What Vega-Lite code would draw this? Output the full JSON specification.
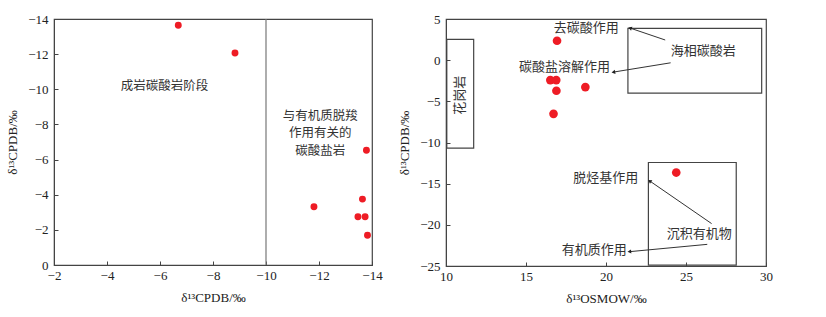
{
  "$schema": "https://vega.github.io/schema/vega-lite/v6.json",
  "background": "white",
  "padding": {"left": 6, "top": 12, "right": 5, "bottom": 5},
  "spacing": 15,
  "config": {
    "font": "Liberation Serif",
    "view": {"stroke": "#444", "strokeWidth": 1.2},
    "axis": {
      "labelFont": "Liberation Serif", "labelFontSize": 13, "labelColor": "#222",
      "titleFont": "Liberation Serif", "titleFontSize": 13, "titleFontWeight": "normal", "titleColor": "#222",
      "domainColor": "#444", "tickColor": "#444", "tickSize": -4, "grid": false,
      "labelOverlap": false, "labelFlush": false
    },
    "axisX": {"labelPadding": 8},
    "axisY": {"labelPadding": 10},
    "text": {"font": "Noto Sans CJK SC", "fontSize": 13, "color": "#333"}
  },
  "datasets": {
    "left": [
      {"x": -6.69, "y": -13.64}, {"x": -8.83, "y": -12.07}, {"x": -13.79, "y": -6.53},
      {"x": -13.64, "y": -3.75}, {"x": -11.81, "y": -3.32}, {"x": -13.47, "y": -2.75},
      {"x": -13.74, "y": -2.75}, {"x": -13.83, "y": -1.69}
    ],
    "leftText": [
      {"x": -6.17, "y": -10.2, "t": "成岩碳酸岩阶段"},
      {"x": -12.05, "y": -8.5, "t": "与有机质脱羧\n作用有关的\n碳酸盐岩"}
    ],
    "right": [
      {"x": 16.94, "y": 2.36}, {"x": 16.52, "y": -2.42}, {"x": 16.89, "y": -2.42},
      {"x": 16.9, "y": -3.72}, {"x": 18.71, "y": -3.27}, {"x": 16.72, "y": -6.52},
      {"x": 24.39, "y": -13.65}
    ],
    "boxes": [
      {"x1": 10.05, "x2": 11.73, "y1": -10.69, "y2": 2.53},
      {"x1": 21.37, "x2": 29.73, "y1": -4.0, "y2": 3.87},
      {"x1": 22.65, "x2": 28.14, "y1": -24.9, "y2": -12.43}
    ],
    "rightText": [
      {"x": 18.77, "y": 3.87, "t": "去碳酸作用"},
      {"x": 17.4, "y": -0.8, "t": "碳酸盐溶解作用"},
      {"x": 26.08, "y": 1.15, "t": "海相碳酸岩"},
      {"x": 19.98, "y": -14.26, "t": "脱烃基作用"},
      {"x": 25.83, "y": -21.07, "t": "沉积有机物"},
      {"x": 19.27, "y": -23.1, "t": "有机质作用"}
    ],
    "arrows": [
      {"x1": 23.7, "y1": 2.45, "x2": 21.5, "y2": 3.9},
      {"x1": 24.04, "y1": -0.32, "x2": 20.46, "y2": -1.45},
      {"x1": 26.6, "y1": -19.85, "x2": 22.73, "y2": -14.67},
      {"x1": 26.33, "y1": -22.37, "x2": 21.46, "y2": -23.26}
    ]
  },
  "hconcat": [
    {
      "width": 318, "height": 246,
      "layer": [
        {
          "data": {"values": [{"x": -10}]},
          "mark": {"type": "rule", "color": "#777", "strokeWidth": 1.2},
          "encoding": {"x": {"field": "x", "type": "quantitative"}}
        },
        {
          "data": {"name": "left"},
          "mark": {"type": "circle", "color": "#ee1c25", "opacity": 1, "size": 48},
          "encoding": {
            "x": {"field": "x", "type": "quantitative",
              "scale": {"domain": [-14, -2], "reverse": true, "nice": false, "zero": false},
              "axis": {"values": [-2, -4, -6, -8, -10, -12, -14], "title": "δ¹³CPDB/‰", "titlePadding": 9, "labelOverlap": false}},
            "y": {"field": "y", "type": "quantitative",
              "scale": {"domain": [-14, 0], "reverse": true, "nice": false, "zero": false},
              "axis": {"values": [0, -2, -4, -6, -8, -10, -12, -14], "title": "δ¹³CPDB/‰", "titlePadding": 8, "labelOverlap": false}}
          }
        },
        {
          "data": {"name": "leftText"},
          "mark": {"type": "text", "lineBreak": "\n", "lineHeight": 17.5, "fontSize": 12.5},
          "encoding": {
            "x": {"field": "x", "type": "quantitative",
              "scale": {"domain": [-14, -2], "reverse": true, "nice": false, "zero": false},
              "axis": {"values": [-2, -4, -6, -8, -10, -12, -14], "title": "δ¹³CPDB/‰", "titlePadding": 9, "labelOverlap": false}},
            "y": {"field": "y", "type": "quantitative",
              "scale": {"domain": [-14, 0], "reverse": true, "nice": false, "zero": false},
              "axis": {"values": [0, -2, -4, -6, -8, -10, -12, -14], "title": "δ¹³CPDB/‰", "titlePadding": 8, "labelOverlap": false}},
            "text": {"field": "t"}
          }
        }
      ]
    },
    {
      "width": 320, "height": 247,
      "layer": [
        {
          "data": {"name": "boxes"},
          "mark": {"type": "rect", "fill": null, "fillOpacity": 0, "stroke": "#444", "strokeWidth": 1.2},
          "encoding": {
            "x": {"field": "x1", "type": "quantitative",
              "scale": {"domain": [10, 30], "nice": false, "zero": false},
              "axis": {"values": [10, 15, 20, 25, 30], "title": "δ¹³OSMOW/‰", "titlePadding": 9}},
            "x2": {"field": "x2"},
            "y": {"field": "y1", "type": "quantitative",
              "scale": {"domain": [-25, 5], "nice": false, "zero": false},
              "axis": {"values": [-25, -20, -15, -10, -5, 0, 5], "title": "δ¹³CPDB/‰", "titlePadding": 8}},
            "y2": {"field": "y2"}
          }
        },
        {
          "data": {"name": "arrows"},
          "mark": {"type": "rule", "color": "#333", "strokeWidth": 1},
          "encoding": {
            "x": {"field": "x1", "type": "quantitative"},
            "y": {"field": "y1", "type": "quantitative"},
            "x2": {"field": "x2"},
            "y2": {"field": "y2"}
          }
        },
        {
          "data": {"name": "arrows"},
          "transform": [
            {"calculate": "atan2((datum.x2 - datum.x1) * 16, (datum.y2 - datum.y1) * 8.22) * 180 / PI", "as": "ang"}
          ],
          "mark": {"type": "point", "shape": "triangle-up", "filled": true, "color": "#222", "size": 18, "opacity": 1, "strokeWidth": 0},
          "encoding": {
            "x": {"field": "x2", "type": "quantitative"},
            "y": {"field": "y2", "type": "quantitative"},
            "angle": {"field": "ang", "type": "quantitative", "scale": null}
          }
        },
        {
          "data": {"name": "right"},
          "mark": {"type": "circle", "color": "#ee1c25", "opacity": 1, "size": 75},
          "encoding": {
            "x": {"field": "x", "type": "quantitative"},
            "y": {"field": "y", "type": "quantitative"}
          }
        },
        {
          "data": {"name": "rightText"},
          "mark": {"type": "text"},
          "encoding": {
            "x": {"field": "x", "type": "quantitative"},
            "y": {"field": "y", "type": "quantitative"},
            "text": {"field": "t"}
          }
        },
        {
          "data": {"values": [{"x": 10.9, "y": -4.25, "t": "花岗岩"}]},
          "mark": {"type": "text", "angle": 270},
          "encoding": {
            "x": {"field": "x", "type": "quantitative"},
            "y": {"field": "y", "type": "quantitative"},
            "text": {"field": "t"}
          }
        }
      ]
    }
  ]
}
